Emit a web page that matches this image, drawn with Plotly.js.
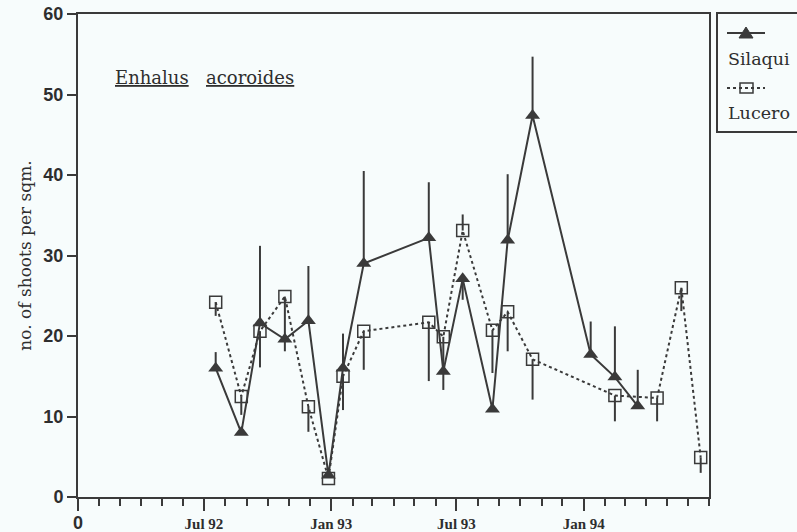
<!DOCTYPE html>
<html>
<head>
<meta charset="utf-8">
<script src="https://cdn.plot.ly/plotly-3.0.1.min.js"></script>
<style>html,body{margin:0;padding:0;background:#f7fcfc;}</style>
</head>
<body>
<div id="chart" style="width:797px;height:532px;"></div>
<script>
// ---- data ----
const silaquiDates = ['1992-07-18','1992-08-24','1992-09-20','1992-10-26','1992-11-29','1992-12-28','1993-01-18','1993-02-17','1993-05-22','1993-06-12','1993-07-10','1993-08-22','1993-09-13','1993-10-19','1994-01-11','1994-02-15','1994-03-20'];
const silaquiValues = [16.0, 8.0, 21.6, 19.6, 21.9, 2.7, 16.0, 29.0, 32.2, 15.6, 27.1, 10.9, 31.9, 47.4, 17.7, 14.9, 11.3];
const silaquiErrPlus = [2.0, 0, 9.6, 0, 6.8, 0, 4.3, 11.5, 6.9, 0, 0, 0, 8.2, 7.3, 4.1, 6.3, 4.5];
const silaquiErrMinus = [0, 0, 0, 0, 0, 0, 0, 0, 0, 2.3, 2.6, 0, 0, 0, 0, 0, 0];

const luceroDates = ['1992-07-18','1992-08-24','1992-09-20','1992-10-26','1992-11-29','1992-12-28','1993-01-18','1993-02-17','1993-05-22','1993-06-12','1993-07-10','1993-08-22','1993-09-13','1993-10-19','1994-02-15','1994-04-17','1994-05-22','1994-06-19'];
const luceroValues = [24.2, 12.5, 20.6, 24.9, 11.2, 2.3, 15.0, 20.6, 21.7, 19.9, 33.1, 20.7, 23.0, 17.1, 12.6, 12.3, 26.0, 4.9];
const luceroErrPlus = [0, 0, 0, 0, 0, 0, 0, 0, 0, 0, 2.0, 0, 0, 0, 0, 0, 0, 0];
const luceroErrMinus = [1.7, 2.3, 4.5, 6.8, 3.1, 0, 4.2, 4.8, 7.3, 4.3, 0, 5.3, 4.9, 5.0, 3.2, 2.9, 2.9, 1.9];

const tickDates = ['1992-01-01','1992-07-01','1993-01-01','1993-07-01','1994-01-01'];
const tickLabels = ['<span style="font-family:Liberation Sans;font-weight:bold;font-size:18px">0</span>','Jul 92','Jan 93','Jul 93','Jan 94'];
const seriesNames = ['Silaqui','Lucero'];
const speciesLabel = ['Enhalus','acoroides'];

// ---- style ----
const ink = '#3a3a3a';
const textInk = '#2e2e2e';
const bg = '#f7fcfc';

const traces = [
  {
    x: luceroDates, y: luceroValues, name: seriesNames[1], type: 'scatter', mode: 'lines+markers',
    line: {color: ink, width: 2, dash: 'dot'},
    marker: {symbol: 'square-open', size: 12, color: ink, line: {width: 1.5, color: ink}},
    error_y: {type: 'data', symmetric: false, array: luceroErrPlus, arrayminus: luceroErrMinus, color: ink, thickness: 2, width: 0},
    showlegend: false
  },
  {
    x: silaquiDates, y: silaquiValues, name: seriesNames[0], type: 'scatter', mode: 'lines+markers',
    line: {color: ink, width: 2},
    marker: {symbol: 'triangle-up', size: 13, color: ink},
    error_y: {type: 'data', symmetric: false, array: silaquiErrPlus, arrayminus: silaquiErrMinus, color: ink, thickness: 2, width: 0},
    showlegend: false
  }
];

// pixel -> paper helpers for the hand-drawn legend box
const L = 78, T = 14, PW = 719, PH = 483;
const X = px => (px - L) / PW;
const Y = py => (T + PH - py) / PH;

const shapes = [
  {type: 'rect', xref: 'paper', yref: 'paper', x0: X(717), x1: X(805), y0: Y(132), y1: Y(13), line: {color: ink, width: 2}},
  {type: 'line', xref: 'paper', yref: 'paper', x0: X(727), x1: X(765), y0: Y(33), y1: Y(33), line: {color: ink, width: 2}},
  {type: 'path', xref: 'paper', yref: 'paper', path: `M ${X(739)} ${Y(38)} L ${X(753)} ${Y(38)} L ${X(746)} ${Y(27)} Z`, fillcolor: ink, line: {color: ink, width: 1}},
  {type: 'line', xref: 'paper', yref: 'paper', x0: X(727), x1: X(765), y0: Y(88), y1: Y(88), line: {color: ink, width: 2, dash: 'dot'}},
  {type: 'rect', xref: 'paper', yref: 'paper', x0: X(740), x1: X(753), y0: Y(93), y1: Y(83), line: {color: ink, width: 1.5}}
];

const serif = 'DejaVu Serif';
const annotations = [
  {xref: 'paper', yref: 'paper', x: X(113), y: Y(78), xanchor: 'left', yanchor: 'middle', showarrow: false, text: '<u>' + speciesLabel[0] + '</u>', font: {family: serif, size: 18, color: textInk}},
  {xref: 'paper', yref: 'paper', x: X(204), y: Y(78), xanchor: 'left', yanchor: 'middle', showarrow: false, text: '<u>' + speciesLabel[1] + '</u>', font: {family: serif, size: 18, color: textInk}},
  {xref: 'paper', yref: 'paper', x: X(726), y: Y(59), xanchor: 'left', yanchor: 'middle', showarrow: false, text: seriesNames[0], font: {family: serif, size: 17.5, color: textInk}},
  {xref: 'paper', yref: 'paper', x: X(726), y: Y(113), xanchor: 'left', yanchor: 'middle', showarrow: false, text: seriesNames[1], font: {family: serif, size: 17.5, color: textInk}}
];

const layout = {
  width: 797, height: 532,
  margin: {l: L, r: 0, t: T, b: 35, pad: 0},
  paper_bgcolor: bg, plot_bgcolor: bg,
  showlegend: false,
  xaxis: {
    type: 'date', domain: [0, 631 / PW], range: ['1992-01-01', '1994-07-01'],
    tickmode: 'array', tickvals: tickDates, ticktext: tickLabels,
    ticks: 'outside', ticklen: 12, tickwidth: 2, tickcolor: ink,
    minor: {dtick: 'M1', tick0: '1992-01-01', ticks: 'outside', ticklen: 7, tickwidth: 2, tickcolor: ink, showgrid: false},
    showline: true, linewidth: 2, linecolor: ink, mirror: true,
    showgrid: false, zeroline: false,
    tickfont: {family: 'Liberation Serif', size: 15, color: textInk, weight: 'bold'}
  },
  yaxis: {
    range: [0, 60], dtick: 10, tick0: 0,
    ticks: 'outside', ticklen: 9, tickwidth: 2, tickcolor: ink,
    showline: true, linewidth: 2, linecolor: ink, mirror: true,
    showgrid: false, zeroline: false,
    tickfont: {family: 'Liberation Sans', size: 18, color: textInk, weight: 'bold'},
    title: {text: 'no. of shoots per sqm.', font: {family: serif, size: 17, color: textInk}, standoff: 7}
  },
  shapes: shapes,
  annotations: annotations
};

Plotly.newPlot('chart', traces, layout, {displayModeBar: false, staticPlot: true});
</script>
</body>
</html>
